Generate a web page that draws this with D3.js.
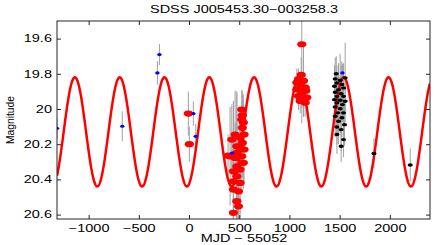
<!DOCTYPE html>
<html>
<head>
<meta charset="utf-8">
<title>SDSS J005453.30-003258.3</title>
<script src="https://d3js.org/d3.v7.min.js"></script>
<style>
  body { margin: 0; background: #fff; }
  text { font-family: "Liberation Sans", Arial, sans-serif; fill: #000; }
</style>
</head>
<body>
<svg id="chart" width="436" height="245"></svg>
<script>
// light curve points (MJD - 55052, magnitude, error)
var blueT   = [-1315, -665, -315, -295, 43, 67, 429, 1528]
var blueMag = [20.11, 20.098, 19.795, 19.691, 20.026, 20.155, 20.25, 19.795]
var blueErr = [0.06, 0.085, 0.067, 0.06, 0.07, 0.07, 0.12, 0.05]

var redT   = [-7, 3,
              525, 531, 525, 541, 531, 459, 508, 531, 476, 508, 409, 389, 476, 459, 525,
              541, 476, 442, 508, 476, 442, 508, 442, 492, 476, 492, 442, 426, 548, 548,
              1123, 1117, 1090, 1074, 1140, 1107, 1157, 1074, 1123, 1164, 1090, 1140, 1173, 1157, 1107]
var redMag = [20.026, 20.2,
              20.003, 20.036, 20.06, 20.077, 20.107, 20.145, 20.164, 20.193, 20.212, 20.221, 20.269, 20.265, 20.249, 20.278, 20.269,
              20.306, 20.326, 20.354, 20.344, 20.382, 20.411, 20.42, 20.458, 20.468, 20.524, 20.553, 20.59, 20.174, 20.145, 20.23,
              19.632, 19.806, 19.83, 19.85, 19.84, 19.86, 19.878, 19.888, 19.907, 19.897, 19.926, 19.945, 19.935, 19.964, 19.954]
var redErr = [0.125, 0.1,
              0.11, 0.14, 0.1, 0.16, 0.12, 0.25, 0.15, 0.2, 0.3, 0.18, 0.28, 0.12, 0.35, 0.2, 0.22,
              0.15, 0.3, 0.4, 0.25, 0.3, 0.45, 0.2, 0.35, 0.2, 0.25, 0.15, 0.1, 0.2, 0.14, 0.2,
              0.45, 0.1, 0.06, 0.08, 0.2, 0.05, 0.07, 0.06, 0.09, 0.05, 0.08, 0.1, 0.06, 0.08, 0.07]

var blackT   = [1466, 1456, 1505, 1555, 1473, 1522, 1449, 1539, 1489, 1456, 1515, 1473, 1539, 1449, 1505,
                1555, 1473, 1528, 1456, 1505, 1482, 1539, 1456, 1522, 1489, 1549, 1473, 1515, 1473, 1539, 1515,
                1842, 2203]
var blackMag = [19.8, 19.829, 19.837, 19.823, 19.852, 19.861, 19.871, 19.88, 19.89, 19.905, 19.913, 19.928, 19.928, 19.947, 19.95,
                19.956, 19.965, 19.975, 19.988, 19.999, 20.022, 20.022, 20.041, 20.05, 20.07, 20.089, 20.102, 20.117, 20.145, 20.174, 20.212,
                20.253, 20.318]
var blackErr = [0.1, 0.12, 0.15, 0.2, 0.1, 0.13, 0.12, 0.14, 0.15, 0.11, 0.16, 0.12, 0.1, 0.13, 0.14,
                0.12, 0.15, 0.1, 0.12, 0.14, 0.13, 0.1, 0.12, 0.11, 0.13, 0.12, 0.1, 0.12, 0.11, 0.1, 0.09,
                0.085, 0.094]

// sinusoid model parameters
var period = 446.3
var peakT = -1137
var meanMag = 20.13
var amplitude = 0.31

var xTicks = [-1000, -500, 0, 500, 1000, 1500, 2000]
var yTicks = [19.6, 19.8, 20, 20.2, 20.4, 20.6]

var margin = {left: 57, top: 21, right: 6, bottom: 26}
var width = 436 - margin.left - margin.right
var height = 245 - margin.top - margin.bottom
var stretch = 1.45

var svg = d3.select("#chart")
var g = svg.append("g")
    .attr("transform", "translate(" + margin.left + "," + margin.top + ")")

var x = d3.scaleLinear().domain([-1315, 2400]).range([0, width])
var y = d3.scaleLinear().domain([19.5, 20.625]).range([0, height])

g.append("clipPath").attr("id", "clip")
  .append("rect").attr("width", width).attr("height", height)

var plot = g.append("g").attr("clip-path", "url(#clip)")

// error bars
function errorBars(ts, ms, es) {
  plot.append("g").selectAll("line")
    .data(ts.map(function(t, i) { return {t: t, m: ms[i], e: es[i]} }))
    .enter().append("line")
      .attr("x1", function(d) { return x(d.t) })
      .attr("x2", function(d) { return x(d.t) })
      .attr("y1", function(d) { return y(d.m - d.e) })
      .attr("y2", function(d) { return y(d.m + d.e) })
      .attr("stroke", "#a0a0a0")
      .attr("stroke-width", 1)
}
errorBars(redT, redMag, redErr)
errorBars(blackT, blackMag, blackErr)
errorBars(blueT, blueMag, blueErr)

// model curve
var curveT = d3.range(-1315, 2401, 2)
var line = d3.line()
  .x(function(t) { return x(t) })
  .y(function(t) { return y(meanMag - amplitude * Math.cos(2 * Math.PI * (t - peakT) / period)) })
plot.append("path")
  .datum(curveT)
  .attr("d", line)
  .attr("fill", "none")
  .attr("stroke", "#ff0000")
  .attr("stroke-width", 2.5)

// markers
function markers(ts, ms, color, rx, ry) {
  plot.append("g").selectAll("ellipse")
    .data(ts.map(function(t, i) { return {t: t, m: ms[i]} }))
    .enter().append("ellipse")
      .attr("cx", function(d) { return x(d.t) })
      .attr("cy", function(d) { return y(d.m) })
      .attr("rx", rx)
      .attr("ry", ry)
      .attr("fill", color)
}
markers(redT, redMag, "#ff0000", 4.6, 3.1)
markers(blackT, blackMag, "#000000", 2.6, 1.7)
markers(blueT, blueMag, "#0000ff", 2.2, 1.6)

// axes, ticks pointing inward on all four sides
var fmtX = d3.format("d")
var fmtY = function(d) { return String(+d.toFixed(1)) }

var xb = g.append("g").attr("transform", "translate(0," + height + ")")
  .call(d3.axisBottom(x).tickValues(xTicks).tickSizeInner(-4).tickSizeOuter(0).tickPadding(5.5).tickFormat(fmtX))
var xt = g.append("g")
  .call(d3.axisTop(x).tickValues(xTicks).tickSizeInner(-4).tickSizeOuter(0).tickFormat(""))
var yl = g.append("g")
  .call(d3.axisLeft(y).tickValues(yTicks).tickSizeInner(-4).tickSizeOuter(0).tickPadding(3.5).tickFormat(fmtY))
var yr = g.append("g").attr("transform", "translate(" + width + ",0)")
  .call(d3.axisRight(y).tickValues(yTicks).tickSizeInner(-4).tickSizeOuter(0).tickFormat(""))

;[xb, xt, yl, yr].forEach(function(a) {
  a.select(".domain").remove()
  a.selectAll("line").attr("stroke", "#262626")
  a.selectAll("text")
    .style("font-size", "10px")
    .attr("fill", "#000")
    .attr("transform", "scale(" + stretch + ",1)")
})

g.append("rect")
  .attr("width", width).attr("height", height)
  .attr("fill", "none").attr("stroke", "#262626").attr("stroke-width", 1)

// labels
svg.append("text")
  .attr("transform", "translate(244,12.5) scale(" + stretch + ",1)")
  .attr("text-anchor", "middle")
  .style("font-size", "10px")
  .text("SDSS J005453.30\u2212003258.3")

svg.append("text")
  .attr("transform", "translate(244,242) scale(" + stretch + ",1)")
  .attr("text-anchor", "middle")
  .style("font-size", "10px")
  .text("MJD \u2212 55052")

svg.append("text")
  .attr("transform", "translate(14,120) rotate(-90) scale(1,1.15)")
  .attr("text-anchor", "middle")
  .style("font-size", "10.3px")
  .text("Magnitude")
</script>
</body>
</html>
